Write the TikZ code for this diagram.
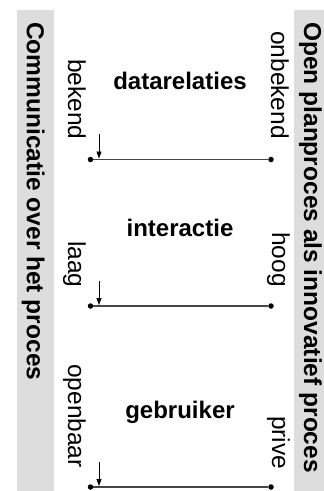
\documentclass[tikz,border=0pt]{standalone}
\usepackage{fontspec}
\setmainfont{Liberation Sans}
\usetikzlibrary{arrows.meta}
\definecolor{bargray}{RGB}{221,221,221}
\definecolor{linegray}{RGB}{70,70,70}
\begin{document}
\begin{tikzpicture}[x=1pt,y=-1pt,
  bar/.style={fill=bargray,draw=none},
  bartext/.style={rotate=-90,anchor=base west,inner sep=0pt,font=\fontsize{24.5}{28}\selectfont\bfseries},
  endlabel/.style={rotate=-90,anchor=base west,inner sep=0pt,font=\fontsize{24.5}{28}\selectfont},
  blocktitle/.style={anchor=base,inner sep=0pt,font=\fontsize{24}{28}\selectfont\bfseries},
  enddot/.style={circle,fill=black,inner sep=0pt,minimum size=5.5pt},
  scaleline/.style={draw=linegray,line width=1.1pt},
  marker/.style={-{Triangle[length=7pt,width=5pt]},line width=0.8pt}]
\useasboundingbox (0,0) rectangle (324,491);
% side bars
\fill[bar] (17,10) rectangle (54,491);
\fill[bar] (294,10) rectangle (324,491);
\node[bartext] (lefttitle) at (27,22) {Communicatie over het proces};
\node[bartext] (righttitle) at (304,22) {Open planproces als innovatief proces};
% block 1
\node[blocktitle] (t1) at (180,89) {datarelaties};
\node[endlabel] (l1) at (68,59) {bekend};
\node[endlabel] (r1) at (271,31) {onbekend};
\node[enddot] (a1) at (90.5,159.5) {};
\node[enddot] (b1) at (271,159.5) {};
\draw[scaleline] (a1) -- (b1);
\coordinate (m1s) at (99,134);
\coordinate (m1e) at (99,158.5);
\draw[marker] (m1s) -- (m1e);
% block 2
\node[blocktitle] (t2) at (180,236) {interactie};
\node[endlabel] (l2) at (68,241) {laag};
\node[endlabel] (r2) at (272,232) {hoog};
\node[enddot] (a2) at (90.5,306) {};
\node[enddot] (b2) at (271,306) {};
\draw[scaleline] (a2) -- (b2);
\coordinate (m2s) at (99,281);
\coordinate (m2e) at (99,305);
\draw[marker] (m2s) -- (m2e);
% block 3
\node[blocktitle] (t3) at (180,418) {gebruiker};
\node[endlabel] (l3) at (68,364) {openbaar};
\node[endlabel] (r3) at (272,416) {prive};
\node[enddot] (a3) at (90.5,487) {};
\node[enddot] (b3) at (271,487) {};
\draw[scaleline] (a3) -- (b3);
\coordinate (m3s) at (99,462);
\coordinate (m3e) at (99,486);
\draw[marker] (m3s) -- (m3e);
\end{tikzpicture}
\end{document}
